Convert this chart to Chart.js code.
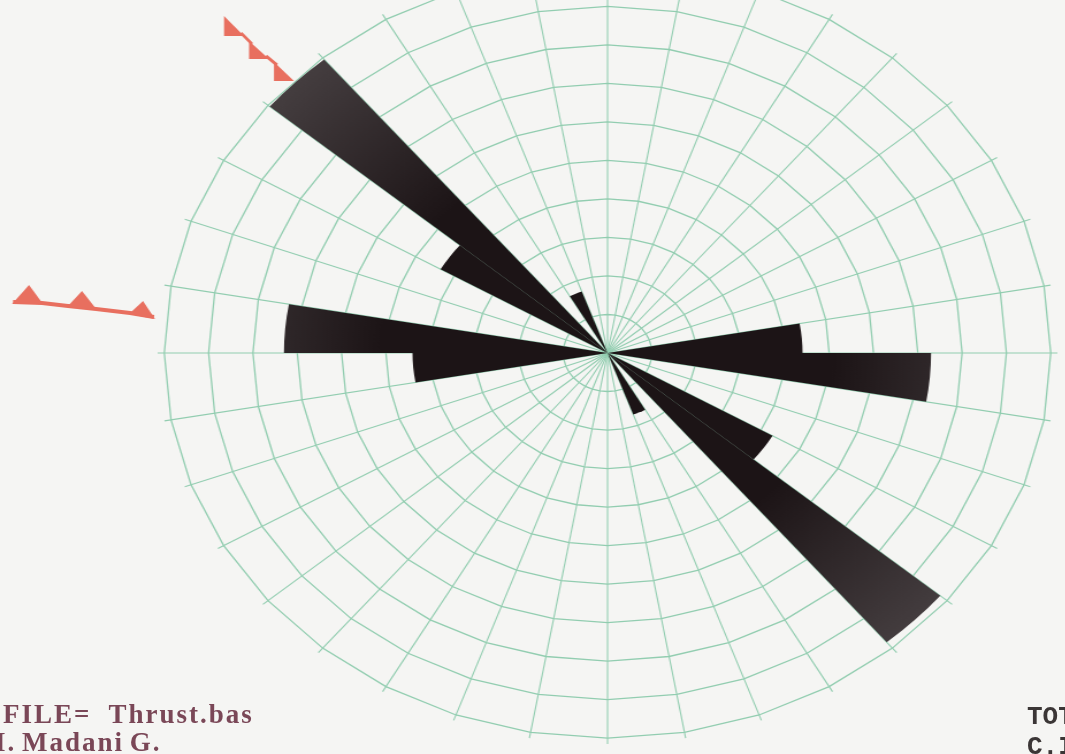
<!DOCTYPE html>
<html>
<head>
<meta charset="utf-8">
<script src="https://cdn.jsdelivr.net/npm/chart.js@4.4.1/dist/chart.umd.min.js"></script>
<style>
html,body{margin:0;padding:0;width:1065px;height:754px;overflow:hidden;background:#f5f5f3;}
#wrap{position:absolute;left:0;top:-38px;width:926px;height:792px;transform:scaleX(1.1506);transform-origin:0 0;}
.lbl{position:absolute;white-space:pre;font-family:"Liberation Serif","Times New Roman",serif;font-weight:bold;font-size:27px;line-height:27px;color:#7a4757;letter-spacing:2px;}
.rt{position:absolute;white-space:pre;font-family:"Liberation Mono",monospace;font-weight:bold;font-size:26px;line-height:26px;color:#3b3636;}
</style>
</head>
<body>
<div id="wrap"><canvas id="c" width="926" height="792"></canvas></div>
<div class="lbl" style="left:3px;top:701px">FILE=  Thrust.bas</div>
<div class="lbl" style="left:-5px;top:729px;word-spacing:-3px">I. Madani G.</div>
<div class="rt" style="left:1027px;top:704px">TOT</div>
<div class="rt" style="left:1027px;top:734px">C.I</div>
<script>
// 10-degree direction classes, clockwise from North
const SECTORS = ['0°','10°','20°','30°','40°','50°','60°','70°','80°','90°','100°','110°',
                 '120°','130°','140°','150°','160°','170°','180°','190°','200°','210°','220°','230°',
                 '240°','250°','260°','270°','280°','290°','300°','310°','320°','330°','340°','350°'];
// petal length (in ring units) for each class
const FREQ = [0, 0, 0, 0, 0, 0, 0, 0, 4.4, 7.3, 0, 0,
              4.3, 9.8, 0, 1.7, 0, 0, 0, 0, 0, 0, 0, 0,
              0, 0, 4.4, 7.3, 0, 0, 4.35, 9.95, 0, 1.7, 0, 0];
// concentric rings
const RING_TICKS = [0, 1, 2, 3, 4, 5, 6, 7, 8, 9, 10];
const AXIS_MAX = 10.15;

const SX = 1.1506;       // horizontal stretch of the plot
const GRID = '#92cdb0';

function petalFill(ctx) {
  const ch = ctx.chart, r = ch.scales && ch.scales.r;
  if (!r || !ch.chartArea || !r.drawingArea) return '#1e1517';
  const g = ch.ctx.createRadialGradient(r.xCenter, r.yCenter, 0, r.xCenter, r.yCenter, r.drawingArea);
  g.addColorStop(0, '#1c1416');
  g.addColorStop(0.5, '#1c1416');
  g.addColorStop(1, '#463f41');
  return g;
}

const faultPlugin = {
  id: 'faults',
  afterDraw(chart) {
    const c = chart.ctx;
    c.save();
    c.setTransform(1 / SX, 0, 0, 1, 0, 38);
    c.fillStyle = '#e86f5f';
    c.strokeStyle = '#e86f5f';
    const tri = (a, b, d) => { c.beginPath(); c.moveTo(a[0], a[1]); c.lineTo(b[0], b[1]); c.lineTo(d[0], d[1]); c.closePath(); c.fill(); };
    // upper thrust symbol
    tri([224, 16], [224, 36], [244, 36]);
    tri([249, 41], [249, 59], [269, 59]);
    tri([274, 62], [274, 81], [294, 81]);
    c.lineWidth = 3;
    c.beginPath(); c.moveTo(241, 33); c.lineTo(252, 44); c.moveTo(266, 56); c.lineTo(277, 65); c.stroke();
    // left thrust symbol
    c.lineWidth = 4;
    c.beginPath(); c.moveTo(13, 302); c.lineTo(42, 303); c.lineTo(68, 306); c.lineTo(96, 309); c.lineTo(130, 313); c.lineTo(154, 317); c.stroke();
    tri([12, 304], [29, 285], [43, 304]);
    tri([67, 307], [82, 291], [97, 310]);
    tri([129, 314], [143, 301], [155, 319]);
    c.restore();
  }
};

new Chart(document.getElementById('c'), {
  type: 'polarArea',
  data: {
    labels: SECTORS,
    datasets: [{ data: FREQ, backgroundColor: petalFill, borderWidth: 0 }]
  },
  options: {
    responsive: false,
    animation: false,
    devicePixelRatio: 1,
    layout: { padding: { left: 137, right: 7, top: 0, bottom: 10 } },
    plugins: { legend: { display: false }, tooltip: { enabled: false } },
    scales: {
      r: {
        min: 0, max: AXIS_MAX, startAngle: 0,
        afterBuildTicks: (s) => { s.ticks = RING_TICKS.map(v => ({ value: v })); },
        ticks: { display: false },
        grid: { circular: false, color: GRID, lineWidth: 1.3 },
        angleLines: { display: true, color: GRID, lineWidth: 1.1 },
        pointLabels: { display: false }
      }
    }
  },
  plugins: [faultPlugin]
});
</script>
</body>
</html>
